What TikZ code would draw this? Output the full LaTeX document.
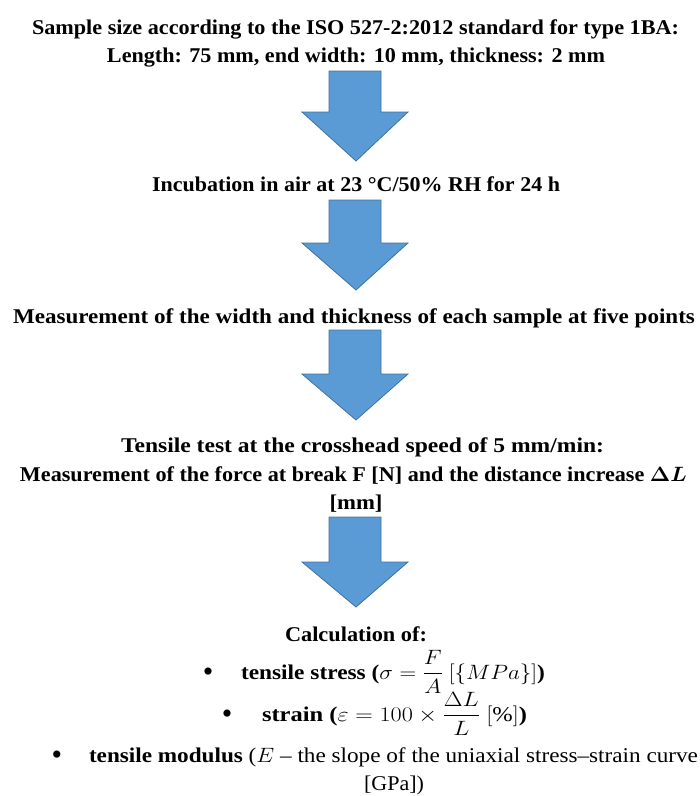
\documentclass[tikz,border=0pt]{standalone}
\usepackage{amsmath}
\usepackage{fontspec}
\setmainfont{Liberation Serif}
\usepackage{graphicx}
\newsavebox\fitbox
\newcommand\fitline[2]{\sbox\fitbox{#2}\pgfmathsetmacro\fitfac{#1/\the\wd\fitbox}\scalebox{\fitfac}[1]{\usebox\fitbox}}
\definecolor{arrowfill}{HTML}{5B9BD5}
\definecolor{arrowline}{HTML}{41719C}
\tikzset{
  txt/.style={anchor=base, inner sep=0pt, font=\fontsize{21}{25}\selectfont\bfseries},
  txtr/.style={anchor=base, inner sep=0pt, font=\fontsize{21}{25}\selectfont},
  bul/.style={anchor=base, inner sep=0pt, font=\fontsize{30}{30}\selectfont},
  blockarrow/.style={fill=arrowfill, draw=arrowline, line width=0.8pt, line join=miter}
}
% #1 name, #2 top y, #3 shoulder y, #4 tip y
\newcommand\downarrowblock[4]{%
  \coordinate (#1) at (355,#2);
  \draw[blockarrow] ([xshift=-26]#1) -- ([xshift=26]#1) -- (381,#3) -- (408,#3) -- (356,#4)
    -- (302,#3) -- (329,#3) -- cycle;}
\begin{document}
\begin{tikzpicture}[x=1pt,y=-1pt]
\useasboundingbox (0,0) rectangle (700,796);

\node[txt] (l1) at (355.5,34) {\fitline{647}{Sample size according to the ISO 527-2:2012 standard for type 1BA:}};
\node[txt] (l2) at (356,62) {\fitline{498}{Length: 75 mm, end width: 10 mm, thickness: 2 mm}};
\downarrowblock{a1}{71}{112}{161}
\node[txt] (l3) at (356,191) {\fitline{408}{Incubation in air at 23 °C/50\% RH for 24 h}};
\downarrowblock{a2}{200}{243}{290}
\node[txt] (l4) at (354,323) {\fitline{682}{Measurement of the width and thickness of each sample at five points}};
\downarrowblock{a3}{330}{374}{420}
\node[txt] (l5) at (362.5,452) {\fitline{483}{Tensile test at the crosshead speed of 5 mm/min:}};
\node[txt] (l6) at (353.5,481) {\fitline{667}{Measurement of the force at break F [N] and the distance increase \boldmath$\Delta L$}};
\node[txt] (l7) at (356,509) {\fitline{53}{[mm]}};
\downarrowblock{a4}{517}{562}{607}
\node[txt] (l8) at (356,641) {\fitline{142}{Calculation of:}};
\node[bul] (b1) at (208,681) {\textbullet};
\node[txt] (t1) at (393,679) {\fitline{304}{tensile stress ($\sigma = \dfrac{F}{A}\ [\{MPa\}]$)}};
\node[bul] (b2) at (227,723) {\textbullet};
\node[txt] (t2) at (394.5,721) {\fitline{265}{strain ($\varepsilon = 100\times\dfrac{\Delta L}{L}\ [\%]$)}};
\node[bul] (b3) at (57,764) {\textbullet};
\node[txt] (t3) at (393.5,762) {\fitline{609}{tensile modulus \mdseries($E$ – the slope of the uniaxial stress–strain curve}};
\node[txtr] (t4) at (394,790) {\fitline{60}{[GPa])}};
\end{tikzpicture}
\end{document}
